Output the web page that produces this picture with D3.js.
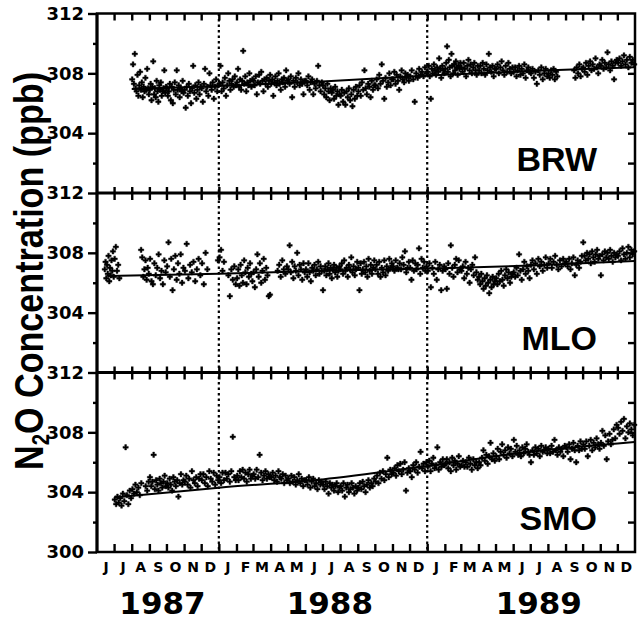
<!DOCTYPE html>
<html lang="en">
<head>
<meta charset="UTF-8">
<title>N2O Concentration</title>
<script src="https://d3js.org/d3.v7.min.js"></script>
<style>
    body { margin: 0; background: #fff; }
    text { font-family: "DejaVu Sans", sans-serif; font-weight: bold; fill: #000; }
</style>
</head>
<body>
<svg></svg>
<script>
    // ---- data ----
    const monthLabels = ["J","J","A","S","O","N","D","J","F","M","A","M","J","J","A","S","O","N","D","J","F","M","A","M","J","J","A","S","O","N","D"];
    const yearLabels = ["1987", "1988", "1989"];
    const yearCentres = ["1987-09-24", "1988-07-14", "1989-07-16"];
    const yearBreaks = ["1988-01-01", "1989-01-01"];
    const majorTicks = [312, 308, 304];
    const minorTicks = [310, 306, 302];
    const rightTicks = [310, 308, 306, 304, 302];
    const stations = ["BRW", "MLO", "SMO"];

    // observations: [month, readings spread over that month] (null = no reading)
    const brwObs = [
        ["1987-08", [307.6,308.6,307.3,309.3,307.0,306.8,307.9,306.5,307.2,308.1,306.9,307.4,306.4,307.1,306.8,307.7,306.9,308.3,307.0,306.6]],
        ["1987-09", [306.9,307.3,306.2,307.1,308.8,306.6,307.0,306.4,307.5,306.8,306.1,307.2,306.9,307.4,306.5,306.8,307.0,308.2,306.7,307.1]],
        ["1987-10", [307.0,306.5,306.8,307.3,306.2,307.1,306.0,306.9,307.4,306.6,308.2,306.9,307.2,306.4,307.0,306.8,307.5,306.7]],
        ["1987-11", [306.9,305.7,307.1,306.5,307.3,306.8,306.0,307.0,308.5,306.7,307.2,306.3,306.9,307.4,306.6,307.1]],
        ["1987-12", [307.0,306.1,307.3,308.3,306.8,307.1,306.5,308.0,307.2,306.9,307.4,306.3,307.1,307.6,306.8,307.2]],
        ["1988-01", [307.3,308.5,306.8,307.4,307.0,307.7,306.5,307.2,308.0,307.5,306.9,307.3,307.6,307.1,307.8,307.2]],
        ["1988-02", [307.4,308.3,307.1,307.6,306.9,307.5,309.5,307.3,307.8,306.8,307.4,307.2,308.0,307.5,307.1,307.6]],
        ["1988-03", [307.5,307.2,307.8,306.6,307.4,307.9,307.3,308.1,307.5,306.8,307.6,307.3,307.7,307.1,307.5,307.9]],
        ["1988-04", [307.3,307.6,306.5,307.4,307.8,307.2,307.5,308.0,307.3,306.9,307.6,307.4,307.7,307.1,308.2,307.5]],
        ["1988-05", [307.6,307.3,307.8,306.4,307.5,307.1,307.7,307.4,308.0,307.2,307.6,307.3,306.6,307.5]],
        ["1988-06", [307.5,307.2,307.8,306.9,307.4,307.6,306.6,307.3,307.0,307.5,308.5,307.2,306.8,307.4]],
        ["1988-07", [307.2,306.6,307.0,306.4,307.3,306.8,306.2,307.0,306.7,306.9,306.3,307.1,306.5,306.8,305.9,306.6]],
        ["1988-08", [306.5,306.9,306.1,306.7,305.9,306.8,306.4,307.0,306.2,306.6,305.8,306.9,306.3,307.1,306.5]],
        ["1988-09", [306.8,307.2,306.5,307.4,306.9,308.2,307.0,306.6,307.3,307.1,306.4,307.5,306.9,307.2]],
        ["1988-10", [307.2,307.6,307.0,307.9,307.3,308.6,307.5,306.3,307.7,307.1,307.4,308.0,307.2,307.6]],
        ["1988-11", [307.6,308.1,307.3,307.9,307.5,306.9,307.8,308.2,307.6,307.4,308.0,307.7,307.9,307.5]],
        ["1988-12", [307.8,308.2,307.6,306.1,308.0,307.7,308.3,307.9,308.1,307.8,308.4,308.0]],
        ["1989-01", [308.1,308.5,307.8,306.3,308.3,308.0,308.6,308.2,307.9,308.4,308.1,309.0,308.3,307.7,308.5,308.2,308.0]],
        ["1989-02", [308.3,308.7,309.8,308.1,308.9,308.4,307.8,309.3,308.5,308.0,308.6,308.2,308.8,308.4,307.9,308.5,308.3,308.7]],
        ["1989-03", [308.4,308.1,308.7,308.3,307.8,308.5,308.9,308.2,308.6,308.0,308.4,308.7,308.2,307.9,308.5]],
        ["1989-04", [308.2,308.5,308.0,308.7,308.3,307.9,308.6,308.2,309.3,308.4,308.1,308.5,307.8,308.3]],
        ["1989-05", [308.3,308.6,308.0,308.4,308.8,308.2,307.9,308.5,308.1,308.7,308.3,308.0,308.4]],
        ["1989-06", [308.1,308.4,307.8,308.2,308.5,307.9,308.3,308.0,308.6,307.7,308.2,308.4,308.1]],
        ["1989-07", [308.0,308.3,307.7,308.1,307.3,308.2,307.9,308.4,307.6,308.0,308.3,307.8]],
        ["1989-08", [308.0,307.7,308.2,307.9,308.3,307.6,308.1,307.8,null,null,null,null,null,null]],
        ["1989-09", [null,null,null,null,null,null,308.2,307.7,308.4,308.0,308.6,307.8,308.3]],
        ["1989-10", [308.4,308.1,308.7,307.9,308.5,308.8,308.2,308.6,308.3,309.0,308.4,308.0,308.6]],
        ["1989-11", [308.5,308.9,308.3,308.7,308.4,309.4,308.6,308.2,308.8,308.5,307.6,308.7,308.9]],
        ["1989-12", [308.7,309.0,308.5,308.8,309.2,308.6,308.9,308.4,309.1,308.7,308.9,308.6]]
    ];
    const mloObs = [
        ["1987-06", [null,null,null,null,null,null,null,null,null,null,306.9,307.4,306.3,307.2,306.6,307.8,306.1,307.0,306.5,307.5,306.8,308.1,306.4]],
        ["1987-07", [307.6,308.4,306.8,307.2,306.3,null,null,null,null,null,null,null,null,null,null]],
        ["1987-08", [null,null,null,null,null,null,null,null,308.2,307.7,306.4,306.9,307.5,306.2,307.0,306.6]],
        ["1987-09", [307.6,306.1,305.9,307.3,306.5,307.0,307.9,306.3,306.8,305.9,307.5,306.7]],
        ["1987-10", [307.1,308.7,306.4,307.6,305.5,306.9,307.8,306.2,307.3,306.6,307.9,306.0,307.0]],
        ["1987-11", [306.8,308.6,306.3,307.2,306.7,307.4,306.1,306.9,307.6,306.5]],
        ["1987-12", [307.3,305.9,308.0,306.9,null,null,null,null,null,307.5]],
        ["1988-01", [307.7,308.2,306.8,307.4,null,null,306.5,305.1,306.9,306.2,307.1,305.9]],
        ["1988-02", [306.3,306.9,305.8,307.2,306.5,306.0,307.5,306.7,305.9,307.0,306.4,307.3,306.6,306.1]],
        ["1988-03", [306.7,305.7,306.9,307.9,306.4,307.3,306.0,306.8,307.6,306.2,307.0,306.5,305.1,305.2]],
        ["1988-04", [null,null,null,null,306.8,307.2,306.4,307.5,306.9,306.6,307.1]],
        ["1988-05", [306.9,308.5,306.7,307.4,306.3,307.1,306.8,308.0,306.5,307.2,306.9,306.2,307.3,306.7]],
        ["1988-06", [306.9,306.4,307.3,306.7,306.1,307.0,306.8,307.2,306.5,306.9,307.4,306.6,307.1,306.8]],
        ["1988-07", [305.5,306.8,307.1,306.5,306.9,307.3,306.6,307.0,306.3,306.9,307.2,306.7,307.0,306.4,306.8,307.1]],
        ["1988-08", [306.9,307.3,306.6,307.5,306.8,307.0,306.4,307.2,306.9,307.7,306.7,307.1,306.5,306.9,307.4]],
        ["1988-09", [307.0,305.5,307.3,306.6,306.9,307.4,306.7,307.1,306.4,307.6,306.8,307.2,306.6,307.0,307.5]],
        ["1988-10", [306.9,307.2,306.6,307.4,306.4,307.0,306.7,307.5,306.5,307.1,306.8,307.6,307.0,307.3]],
        ["1988-11", [307.1,306.8,307.5,307.0,306.9,307.3,306.9,307.7,307.2,308.1,306.7,307.0,307.4]],
        ["1988-12", [307.0,306.2,307.5,306.8,307.3,306.9,307.2,308.3,306.6,307.6,307.0,307.4,306.8,307.1]],
        ["1989-01", [306.8,307.3,305.7,307.0,306.6,307.4,306.2,306.9,307.2,305.5,306.8,307.1]],
        ["1989-02", [306.9,305.6,307.3,306.6,308.5,307.0,306.4,307.2,307.6,306.7,307.5,306.9]],
        ["1989-03", [306.8,307.1,306.3,307.4,306.6,307.0,306.0,306.9,307.2,306.5,307.7,306.7,306.2]],
        ["1989-04", [306.4,305.9,306.6,306.1,305.6,306.3,305.8,306.5,306.0,305.3,306.2,305.7,306.4,305.9,306.1]],
        ["1989-05", [306.3,305.9,306.6,306.1,306.8,306.2,305.8,306.5,306.9,306.3,306.7,306.0,306.4,306.6]],
        ["1989-06", [306.7,306.4,307.0,306.5,307.9,306.8,306.2,306.9,307.4,306.6,307.1,306.8,306.3]],
        ["1989-07", [307.2,307.5,306.9,307.3,306.6,307.6,307.1,307.4,306.8,307.2,307.7,307.0]],
        ["1989-08", [307.3,307.6,307.0,307.4,307.8,307.2,306.9,307.5,307.1,307.6,307.3]],
        ["1989-09", [307.4,307.1,307.6,306.9,307.3,307.7,306.5,307.2,307.5,307.0,307.4,307.8]],
        ["1989-10", [308.7,307.8,307.5,308.0,307.6,307.9,307.3,308.1,307.7,307.4,307.9,308.2,307.6,307.8]],
        ["1989-11", [306.5,307.9,307.5,308.1,307.7,308.0,307.6,308.2,307.8,307.4,308.0,307.7,307.9]],
        ["1989-12", [307.8,308.1,307.5,308.3,307.9,307.6,308.0,308.4,307.7,308.2,307.9,308.1]]
    ];
    const smoObs = [
        ["1987-07", [303.5,303.2,303.7,303.3,303.6,303.1,303.9,303.4,307.0,303.8,303.2,304.1,303.6]],
        ["1987-08", [304.2,303.9,304.5,304.0,304.3,303.8,304.6,null,null,304.4,304.1,304.7]],
        ["1987-09", [305.0,304.4,304.7,306.5,304.2,304.8,304.5,304.1,304.9,304.6,304.3,304.7,305.1,304.4]],
        ["1987-10", [304.6,304.3,304.9,304.5,304.1,305.0,304.7,304.4,304.8,303.7,304.6,305.2,304.5,304.8]],
        ["1987-11", [304.7,305.1,304.5,304.9,304.3,305.4,304.8,304.6,305.0,304.4,304.9,305.2]],
        ["1987-12", [304.8,305.2,304.6,305.0,304.4,305.4,304.9,304.7,305.3,304.5,305.1,304.8]],
        ["1988-01", [305.0,304.6,305.3,304.8,305.3,304.9,305.2,304.7,305.4,307.7,305.0,304.8]],
        ["1988-02", [305.1,304.8,305.4,305.0,305.5,304.9,305.3,304.7,305.2,305.5,304.9,305.1]],
        ["1988-03", [305.2,304.9,305.5,305.0,306.5,305.3,304.8,305.1,305.4,304.9,305.2,305.0]],
        ["1988-04", [305.0,305.3,304.8,305.1,304.7,305.4,305.0,304.9,305.2,304.6,305.1,304.8]],
        ["1988-05", [304.9,304.6,305.1,304.7,305.0,304.5,304.8,305.2,304.6,304.9,304.4,304.8]],
        ["1988-06", [304.8,304.5,305.0,304.3,304.7,304.9,304.4,304.6,304.2,304.8,304.5,304.7]],
        ["1988-07", [304.5,304.2,304.7,304.4,303.9,304.6,304.3,304.5,304.1,304.4,304.6,304.0,304.3]],
        ["1988-08", [304.4,304.1,304.6,303.7,304.3,304.5,304.0,304.2,304.6,304.3,303.9,304.4,304.1]],
        ["1988-09", [304.3,304.6,304.2,304.7,304.4,304.0,304.5,304.8,304.3,304.6,304.4,304.9]],
        ["1988-10", [304.7,305.1,304.6,305.3,304.9,305.4,304.8,305.2,306.3,305.0,305.5,305.2]],
        ["1988-11", [305.3,305.6,305.1,305.8,305.4,305.9,305.2,305.5,306.0,304.1,305.3,305.6]],
        ["1988-12", [305.4,305.0,305.8,305.5,306.0,305.3,305.7,306.7,305.6,305.9,305.4,306.0]],
        ["1989-01", [305.7,306.1,305.4,305.9,306.3,305.6,305.8,307.0,305.5,306.0,305.7,306.2,305.8]],
        ["1989-02", [305.9,306.2,305.6,306.0,305.4,306.3,305.8,306.1,305.5,305.9,306.4,305.7]],
        ["1989-03", [305.8,306.1,305.7,306.0,305.7,306.3,305.9,305.5,306.2,305.8,306.0,305.6]],
        ["1989-04", [306.0,305.8,306.3,306.8,306.1,306.5,305.9,306.4,307.3,306.2,306.6,306.1]],
        ["1989-05", [306.4,306.9,306.2,306.7,307.2,306.5,306.8,306.3,307.0,306.6,306.9,306.4]],
        ["1989-06", [307.5,306.7,307.1,306.5,306.8,306.4,307.0,306.6,306.9,307.2,306.7,306.5]],
        ["1989-07", [306.0,306.8,306.5,307.0,306.6,306.9,306.4,307.1,306.7,306.8,307.0,306.6]],
        ["1989-08", [306.9,306.6,307.1,306.7,307.5,306.8,306.5,307.0,306.7,306.9,306.4,307.1]],
        ["1989-09", [307.0,306.7,307.2,306.2,306.9,307.3,306.8,306.0,307.1,306.8,307.4,306.9]],
        ["1989-10", [307.2,306.9,307.4,306.4,307.1,307.5,306.8,307.3,307.0,307.6,307.2,306.9]],
        ["1989-11", [307.3,308.1,307.1,307.8,306.2,307.4,307.9,307.2,307.5,308.2,307.6,308.5]],
        ["1989-12", [308.3,307.9,308.7,308.1,308.9,307.6,308.4,308.0,308.6,308.2,307.8,308.5]]
    ];

    // fitted trend curves: [date, ppb]
    const brwTrend = [["1987-08-01",306.95],["1988-01-01",307.15],["1988-07-01",307.45],["1989-01-01",307.85],["1989-07-01",308.15],["1989-12-31",308.4]];
    const mloTrend = [["1987-06-20",306.45],["1988-01-01",306.6],["1988-07-01",306.8],["1989-01-01",306.95],["1989-07-01",307.15],["1989-12-31",307.45]];
    const smoTrend = [["1987-07-01",303.65],["1988-01-01",304.3],["1988-07-01",304.85],["1989-01-01",305.75],["1989-07-01",306.7],["1989-12-31",307.35]];

    const observations = [brwObs, mloObs, smoObs];
    const trends = [brwTrend, mloTrend, smoTrend];

    // ---- layout ----
    const width = 639, height = 621;
    const plotLeft = 97, plotRight = 635, plotTop = 13.5, panelH = 179.5;
    const plotBottom = plotTop + 3 * panelH;

    const parseMonth = d3.utcParse("%Y-%m");
    const parseDay = d3.utcParse("%Y-%m-%d");
    const t0 = new Date(Date.UTC(1987, 5, 1)), t1 = new Date(Date.UTC(1990, 0, 1));

    const x = d3.scaleUtc().domain([t0, t1]).range([plotLeft, plotRight]);
    const y = d3.scaleLinear().domain([300, 312]).range([panelH, 0]);

    const svg = d3.select("svg").attr("width", width).attr("height", height);

    const monthStarts = d3.utcMonth.range(new Date(Date.UTC(1987, 6, 1)), t1);
    const monthMids = d3.utcMonth.range(t0, t1).map(m => d3.utcDay.offset(m, 15));

    const symbol = d3.symbol(d3.symbolCross, 16);
    const line = d3.line()
        .x(d => x(parseDay(d[0])))
        .y(d => y(d[1]))
        .curve(d3.curveMonotoneX);

    function spread(obs) {
        let pts = [];
        obs.forEach(([m, vals]) => {
            let m0 = parseMonth(m), m1 = d3.utcMonth.offset(m0, 1);
            vals.forEach((v, i) => {
                if (v == null) return;
                pts.push({date: new Date(+m0 + (i + 0.5) / vals.length * (m1 - m0)), v: v});
            });
        });
        return pts;
    }

    function clean(sel) {
        sel.select(".domain").remove();
        sel.selectAll(".tick line").attr("stroke", "#000").attr("stroke-width", 2.4);
    }

    stations.forEach((name, k) => {
        let panel = svg.append("g").attr("transform", `translate(0,${plotTop + k * panelH})`);

        // data points
        panel.append("g").selectAll("path")
            .data(spread(observations[k]))
            .join("path")
            .attr("transform", d => `translate(${x(d.date)},${y(d.v)})`)
            .attr("d", symbol)
            .attr("fill", "#000")
            .attr("stroke", "#000")
            .attr("stroke-width", 0.4);

        // trend
        panel.append("path")
            .datum(trends[k])
            .attr("d", line)
            .attr("fill", "none")
            .attr("stroke", "#000")
            .attr("stroke-width", 2);

        // left axis labels + ticks
        let majors = k == 2 ? majorTicks.concat([300]) : majorTicks;
        panel.append("g").attr("transform", `translate(${plotLeft},0)`)
            .call(d3.axisLeft(y).tickValues(majors).tickSize(9).tickPadding(4).tickFormat(d3.format("d")))
            .call(clean)
            .selectAll("text")
            .style("font-size", "18px")
            .style("font-family", "'DejaVu Sans', sans-serif")
            .style("font-weight", "bold");
        panel.append("g").attr("transform", `translate(${plotLeft},0)`)
            .call(d3.axisLeft(y).tickValues(minorTicks).tickSize(4).tickFormat(""))
            .call(clean);
        panel.append("g").attr("transform", `translate(${plotRight},0)`)
            .call(d3.axisLeft(y).tickValues(rightTicks).tickSize(7).tickFormat(""))
            .call(clean);

        // station label
        panel.append("text")
            .attr("x", 597)
            .attr("y", 157)
            .attr("text-anchor", "end")
            .style("font-family", "'Liberation Sans', Arial, sans-serif")
            .style("font-size", "34px")
            .text(name);
    });

    // year separators
    svg.append("g").selectAll("line")
        .data(yearBreaks)
        .join("line")
        .attr("x1", d => x(parseDay(d))).attr("x2", d => x(parseDay(d)))
        .attr("y1", plotTop).attr("y2", plotBottom)
        .attr("stroke", "#000")
        .attr("stroke-width", 2.2)
        .attr("stroke-dasharray", "2.5,3");

    // frame
    svg.append("rect")
        .attr("x", plotLeft).attr("y", plotTop)
        .attr("width", plotRight - plotLeft).attr("height", plotBottom - plotTop)
        .attr("fill", "none").attr("stroke", "#000").attr("stroke-width", 2.5);
    svg.append("g").selectAll("line")
        .data([1, 2])
        .join("line")
        .attr("x1", plotLeft).attr("x2", plotRight)
        .attr("y1", d => plotTop + d * panelH).attr("y2", d => plotTop + d * panelH)
        .attr("stroke", "#000").attr("stroke-width", 3);
    svg.append("line")
        .attr("x1", plotLeft).attr("x2", plotLeft).attr("y1", plotTop).attr("y2", plotBottom)
        .attr("stroke", "#000").attr("stroke-width", 3);

    // month ticks along each horizontal border, drawn last so they sit on top
    [0, 1, 2, 3].forEach(b => {
        let yPos = plotTop + b * panelH;
        if (b < 3) {
            svg.append("g").attr("transform", `translate(0,${yPos})`)
                .call(d3.axisBottom(x).tickValues(monthStarts).tickSize(7).tickFormat(""))
                .call(clean);
        }
        if (b > 0) {
            svg.append("g").attr("transform", `translate(0,${yPos})`)
                .call(d3.axisTop(x).tickValues(monthStarts).tickSize(b == 3 ? 8 : 6).tickFormat(""))
                .call(clean);
        }
    });

    // month letters
    svg.append("g").attr("transform", `translate(0,${plotBottom})`)
        .call(d3.axisBottom(x).tickValues(monthMids).tickSize(0).tickPadding(10)
            .tickFormat((d, i) => monthLabels[i]))
        .call(sel => sel.select(".domain").remove())
        .selectAll("text")
        .style("font-size", "14px")
        .style("font-family", "'DejaVu Sans', sans-serif")
        .style("font-weight", "bold");

    // years
    svg.append("g").selectAll("text")
        .data(yearLabels)
        .join("text")
        .attr("x", (d, i) => x(parseDay(yearCentres[i])))
        .attr("y", 614)
        .attr("text-anchor", "middle")
        .style("font-size", "31px")
        .text(d => d);

    // y title
    let title = svg.append("text")
        .attr("transform", "translate(43,271) rotate(-90)")
        .attr("text-anchor", "middle")
        .attr("textLength", 398)
        .attr("lengthAdjust", "spacingAndGlyphs")
        .style("font-family", "'Liberation Sans', Arial, sans-serif")
        .style("font-size", "40px");
    title.append("tspan").text("N");
    title.append("tspan").attr("dy", 6).style("font-size", "24px").text("2");
    title.append("tspan").attr("dy", -6).text("O Concentration (ppb)");
</script>
</body>
</html>
